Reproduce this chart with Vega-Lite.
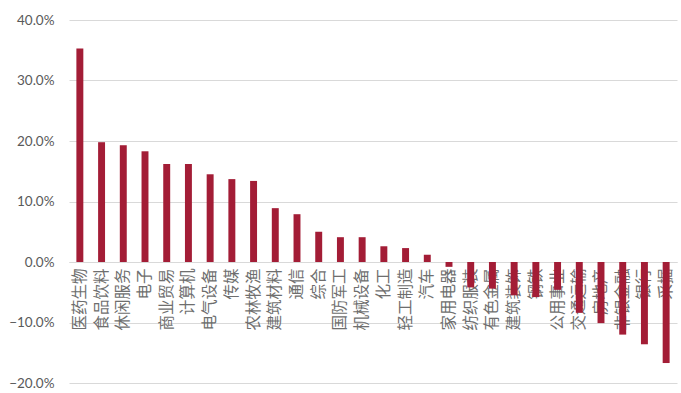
{
  "$schema": "https://vega.github.io/schema/vega-lite/v6.json",
  "autosize": "none",
  "width": 608,
  "height": 363,
  "padding": {"left": 69, "top": 20, "right": 4, "bottom": 10},
  "background": "white",
  "config": {"view": {"stroke": null}},
  "data": {
    "values": [
      {"industry": "医药生物", "value": 35.3},
      {"industry": "食品饮料", "value": 19.8},
      {"industry": "休闲服务", "value": 19.3},
      {"industry": "电子", "value": 18.3},
      {"industry": "商业贸易", "value": 16.2},
      {"industry": "计算机", "value": 16.2},
      {"industry": "电气设备", "value": 14.5},
      {"industry": "传媒", "value": 13.7},
      {"industry": "农林牧渔", "value": 13.4},
      {"industry": "建筑材料", "value": 8.9},
      {"industry": "通信", "value": 7.9},
      {"industry": "综合", "value": 5.0},
      {"industry": "国防军工", "value": 4.1},
      {"industry": "机械设备", "value": 4.1},
      {"industry": "化工", "value": 2.6},
      {"industry": "轻工制造", "value": 2.3},
      {"industry": "汽车", "value": 1.2},
      {"industry": "家用电器", "value": -0.8},
      {"industry": "纺织服装", "value": -4.2},
      {"industry": "有色金属", "value": -4.4},
      {"industry": "建筑装饰", "value": -5.5},
      {"industry": "钢铁", "value": -5.8},
      {"industry": "公用事业", "value": -4.6},
      {"industry": "交通运输", "value": -8.4},
      {"industry": "房地产", "value": -10.1},
      {"industry": "非银金融", "value": -12.0},
      {"industry": "银行", "value": -13.6},
      {"industry": "采掘", "value": -16.7}
    ]
  },
  "mark": {"type": "bar", "color": "#A31D36", "width": {"band": 0.32}},
  "encoding": {
    "x": {
      "field": "industry",
      "type": "nominal",
      "sort": null,
      "scale": {"paddingInner": 0, "paddingOuter": 0},
      "axis": {
        "title": null,
        "offset": -121,
        "labelAngle": -90,
        "labelAlign": "right",
        "labelBaseline": "middle",
        "labelPadding": 6,
        "labelOverlap": false,
        "labelLimit": 200,
        "labelFont": "Noto Sans CJK SC",
        "labelFontSize": 15.5,
        "labelColor": "#6e6e6e",
        "ticks": false,
        "domainColor": "#d9d9d9",
        "domainWidth": 1,
        "grid": false
      }
    },
    "y": {
      "field": "value",
      "type": "quantitative",
      "scale": {"domain": [-20, 40], "nice": false},
      "axis": {
        "title": null,
        "values": [-20, -10, 0, 10, 20, 30, 40],
        "labelExpr": "format(datum.value, '.1f') + '%'",
        "labelFont": "Lato",
        "labelFontSize": 13.5,
        "labelColor": "#595959",
        "labelPadding": 15,
        "ticks": false,
        "domain": false,
        "grid": true,
        "gridColor": "#d9d9d9",
        "gridWidth": 1
      }
    }
  }
}
